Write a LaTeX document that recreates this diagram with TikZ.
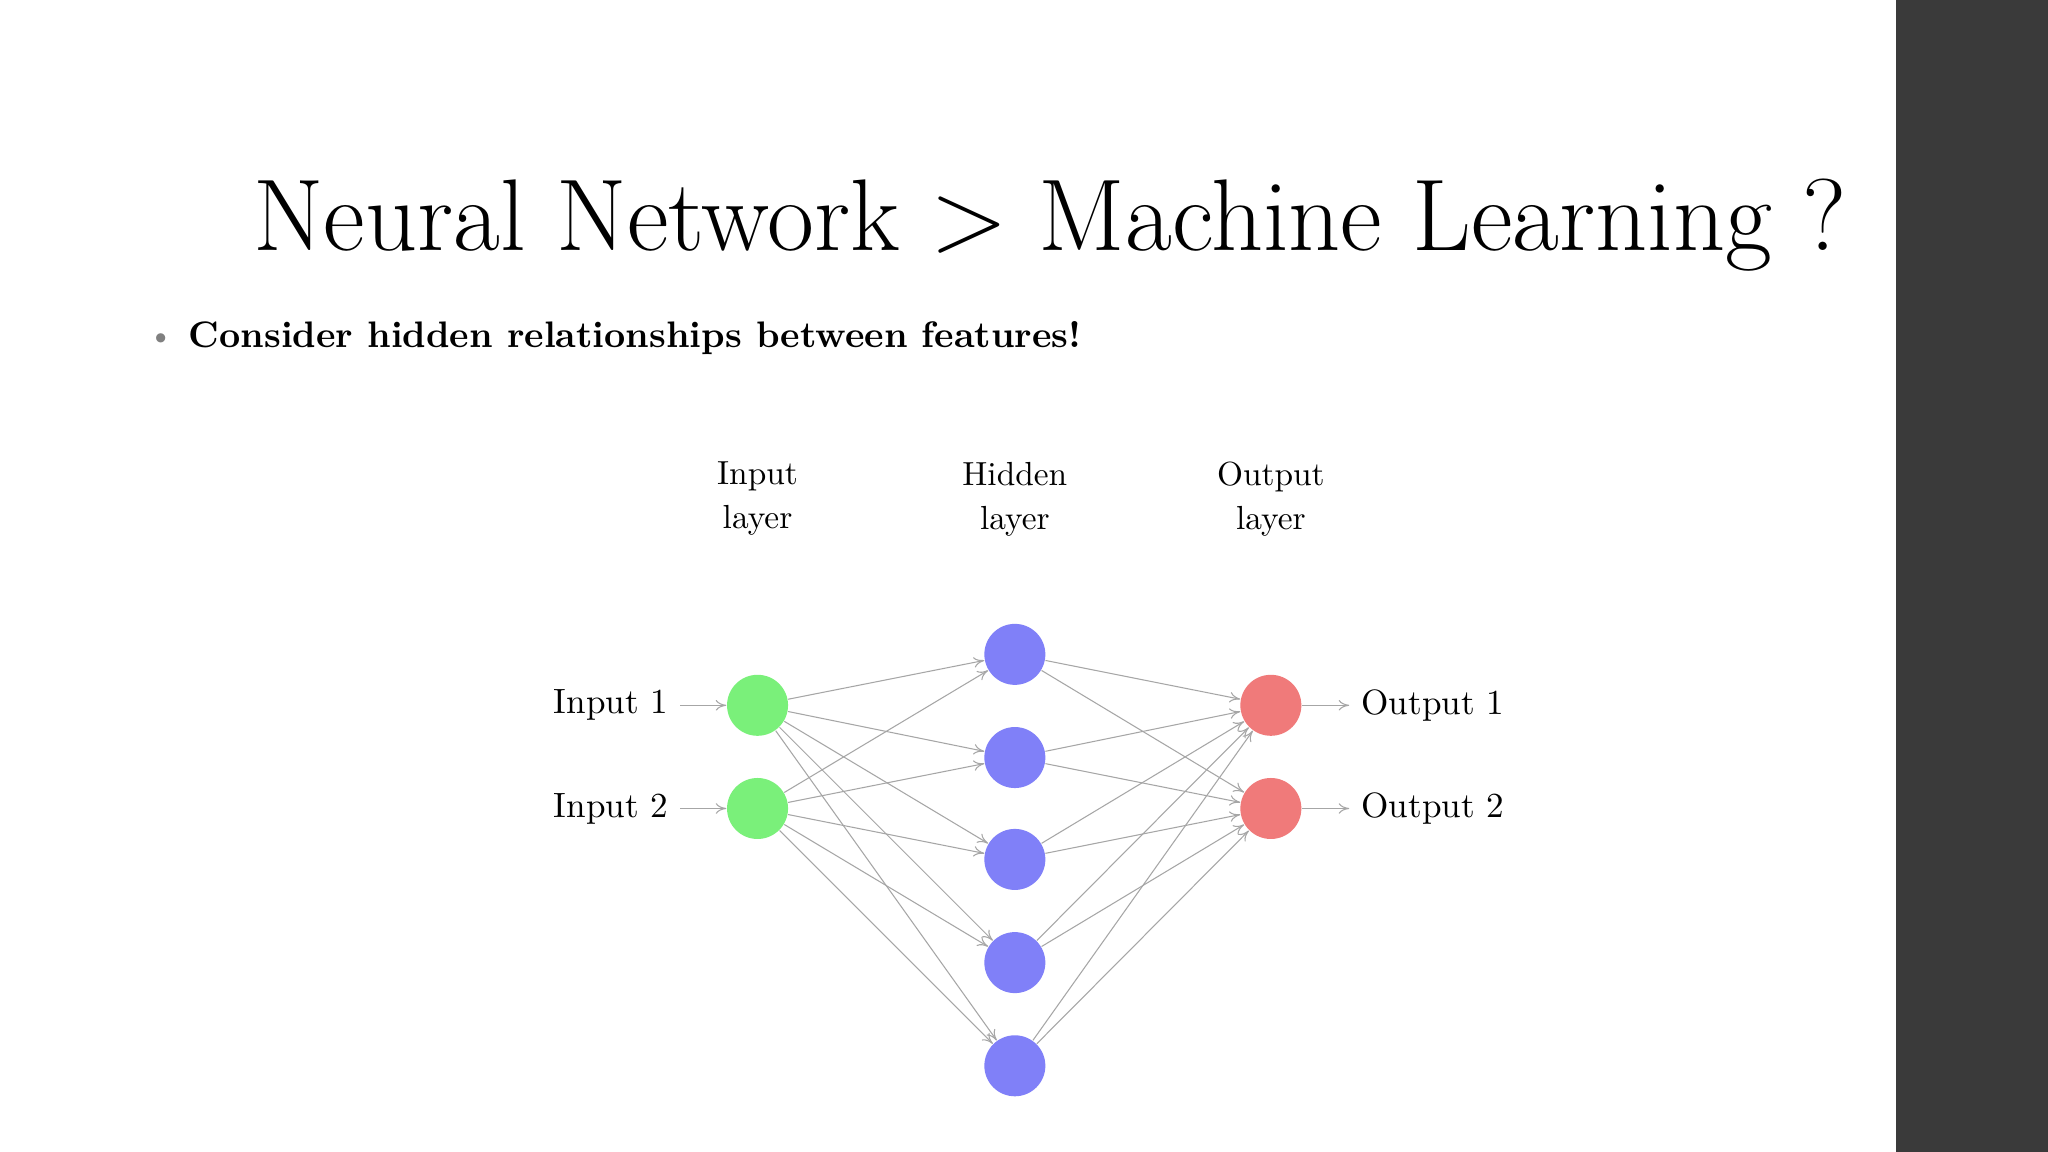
\documentclass[tikz,border=0pt]{standalone}
\usetikzlibrary{arrows.meta}
\definecolor{inpc}{RGB}{122,240,122}
\definecolor{hidc}{RGB}{128,128,248}
\definecolor{outc}{RGB}{240,122,122}
\definecolor{barc}{RGB}{58,58,58}
\begin{document}
\begin{tikzpicture}[x=0.013061cm,y=-0.013061cm,
  neuron/.style={circle, inner sep=0pt, minimum size=0.61cm},
  conn/.style={draw=gray!70, line width=0.3pt, -{To[length=3pt,width=3pt]}},
  lbl/.style={font=\fontsize{9.5}{12.5}\selectfont, align=center}]
  \useasboundingbox (0,0) rectangle (1568,882);
  \fill[white] (0,0) rectangle (1568,882);
  \fill[barc] (1452,0) rectangle (1568,882);
  \node[font=\fontsize{29}{34}\selectfont] (title) at (804,172) {Neural Network > Machine Learning ?};
  \node[text=gray, font=\small] (bul) at (123,260) {\textbullet};
  \node[anchor=west, inner sep=0pt, font=\fontsize{10.5}{13}\selectfont\bfseries] (cons) at (144,259) {Consider hidden relationships between features!};
  \node[lbl] (li) at (580,382) {Input\\layer};
  \node[lbl] (lh) at (777,382) {Hidden\\layer};
  \node[lbl] (lo) at (973,382) {Output\\layer};
  \foreach \i/\y in {1/540,2/619} {
    \node[neuron, fill=inpc] (I\i) at (580,\y) {};
    \node[neuron, fill=outc] (O\i) at (973,\y) {};
    \node[lbl, anchor=east, font=\fontsize{10}{12}\selectfont] (in\i) at (521,\y) {Input \i};
    \node[lbl, anchor=west, font=\fontsize{10}{12}\selectfont] (out\i) at (1033,\y) {Output \i};
    \draw[conn] (in\i) -- (I\i);
    \draw[conn] (O\i) -- (out\i);
  }
  \foreach \j/\y in {1/501,2/580,3/658,4/737,5/816}
    \node[neuron, fill=hidc] (H\j) at (777,\y) {};
  \foreach \i in {1,2}
    \foreach \j in {1,...,5} {
      \draw[conn] (I\i) -- (H\j);
      \draw[conn] (H\j) -- (O\i);
    }
\end{tikzpicture}
\end{document}
